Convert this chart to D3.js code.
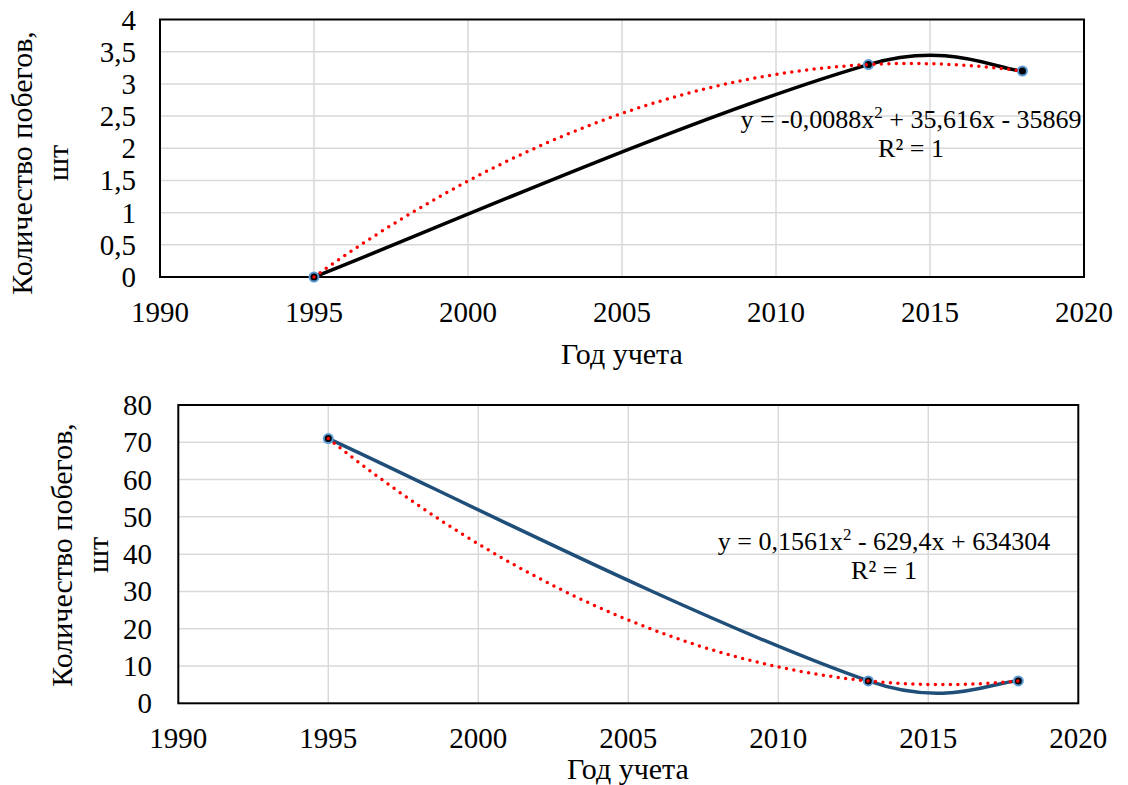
<!DOCTYPE html>
<html><head><meta charset="utf-8"><script src="https://cdn.jsdelivr.net/npm/d3@7"></script></head>
<body style="margin:0">
<svg id="chart" width="1128" height="785"></svg>
<script>
// data
const years = [1995, 2013, 2018];
const shootsTop = [0, 3.3, 3.2];
const shootsBottom = [71, 6, 6];

const xTicks = [1990, 1995, 2000, 2005, 2010, 2015, 2020];
const yTicksTop = [0, 0.5, 1, 1.5, 2, 2.5, 3, 3.5, 4];
const yTicksBottom = [0, 10, 20, 30, 40, 50, 60, 70, 80];

const eqTop = ["y = -0,0088x", "2", " + 35,616x - 35869"];
const eqBottom = ["y = 0,1561x", "2", " - 629,4x + 634304"];
const r2Text = "R² = 1";
const xTitle = "Год учета";
const yTitle = ["Количество побегов,", "шт"];

const svg = d3.select("#chart");

// quadratic through the three points (Lagrange), used for the trendline
const quadratic = (xs, ys) => (x) => {
    let s = 0;
    for (let i = 0; i < xs.length; i++) {
        let t = ys[i];
        for (let j = 0; j < xs.length; j++) {
            if (j !== i) t *= (x - xs[j]) / (xs[i] - xs[j]);
        }
        s += t;
    }
    return s;
};

// Excel-like smoothed line: cubic beziers, tangents along (next - prev)
const smoothPath = (p) => {
    const path = d3.path();
    const endK = 1 / 6, inK = 0.25, outK = 0.115;
    path.moveTo(p[0][0], p[0][1]);
    for (let i = 0; i < p.length - 1; i++) {
        const a = p[i], b = p[i + 1];
        let c1, c2;
        if (i === 0) c1 = [a[0] + (b[0] - a[0]) * endK, a[1] + (b[1] - a[1]) * endK];
        else c1 = [a[0] + (b[0] - p[i - 1][0]) * outK, a[1] + (b[1] - p[i - 1][1]) * outK];
        if (i === p.length - 2) c2 = [b[0] - (b[0] - a[0]) * endK, b[1] - (b[1] - a[1]) * endK];
        else c2 = [b[0] - (p[i + 2][0] - a[0]) * inK, b[1] - (p[i + 2][1] - a[1]) * inK];
        path.bezierCurveTo(c1[0], c1[1], c2[0], c2[1], b[0], b[1]);
    }
    return path.toString();
};

const drawPanel = (cfg) => {
    const x = d3.scaleLinear().domain([1990, 2020]).range([cfg.left, cfg.right]);
    const y = d3.scaleLinear().domain(cfg.yDomain).range([cfg.bottom, cfg.top]);

    // grid
    svg.selectAll(null).data(xTicks.slice(1, -1)).enter().append("line")
        .attr("x1", d => x(d)).attr("x2", d => x(d))
        .attr("y1", cfg.top).attr("y2", cfg.bottom)
        .attr("stroke", "#d9d9d9").attr("stroke-width", 1.5);
    svg.selectAll(null).data(cfg.yTicks.slice(1, -1)).enter().append("line")
        .attr("x1", cfg.left).attr("x2", cfg.right)
        .attr("y1", d => y(d)).attr("y2", d => y(d))
        .attr("stroke", "#d9d9d9").attr("stroke-width", 1.5);

    // plot frame
    svg.append("rect")
        .attr("x", cfg.left).attr("y", cfg.top)
        .attr("width", cfg.right - cfg.left).attr("height", cfg.bottom - cfg.top)
        .attr("fill", "none").attr("stroke", "#000").attr("stroke-width", 2);

    // tick labels
    svg.selectAll(null).data(xTicks).enter().append("text")
        .attr("x", d => x(d)).attr("y", cfg.bottom + cfg.xLabelDy)
        .attr("text-anchor", "middle").attr("font-size", 29)
        .style("font-family", d => "'Liberation Serif'")
        .text(d => d);
    svg.selectAll(null).data(cfg.yTicks).enter().append("text")
        .attr("x", cfg.yLabelX).attr("y", d => y(d) + 10)
        .attr("text-anchor", "end").attr("font-size", 29)
        .style("font-family", d => "'Liberation Serif'")
        .text(d => String(d).replace(".", ","));

    // axis titles
    svg.append("text")
        .attr("x", cfg.xTitleX).attr("y", cfg.xTitleY)
        .attr("text-anchor", "middle").attr("font-size", 30)
        .style("font-family", "'Liberation Serif'")
        .text(xTitle);
    svg.selectAll(null).data(yTitle).enter().append("text")
        .attr("transform", (d, i) => "translate(" + (cfg.yTitleX + i * 36) + "," + cfg.yTitleY + ") rotate(-90)")
        .attr("text-anchor", "middle").attr("font-size", 30)
        .style("font-family", "'Liberation Serif'")
        .text(d => d);

    const pts = years.map((d, i) => [x(d), y(cfg.values[i])]);

    // series line (smoothed)
    svg.append("path")
        .attr("d", smoothPath(pts)).attr("fill", "none")
        .attr("stroke", cfg.color).attr("stroke-width", 3.5);

    // markers
    svg.selectAll(null).data(pts).enter().append("circle")
        .attr("cx", d => d[0]).attr("cy", d => d[1]).attr("r", 4.5)
        .attr("fill", "#000").attr("stroke", "#5b9bd5").attr("stroke-width", 2);

    // polynomial trendline
    const f = quadratic(years, cfg.values);
    const trend = d3.range(years[0], years[years.length - 1] + 0.01, 0.1).map(t => [t, f(t)]);
    svg.append("path").datum(trend)
        .attr("d", d3.line().x(d => x(d[0])).y(d => y(d[1])))
        .attr("fill", "none").attr("stroke", "#ff0000").attr("stroke-width", 3.5)
        .attr("stroke-linecap", "round").attr("stroke-dasharray", "0 7.5");

    // equation label
    const eq = svg.append("text")
        .attr("x", cfg.eqX).attr("y", cfg.eqY)
        .attr("text-anchor", "middle").attr("font-size", 26)
        .style("font-family", "'Liberation Serif'");
    eq.append("tspan").text(cfg.eq[0]);
    eq.append("tspan").attr("dy", -10).attr("font-size", 17).text(cfg.eq[1]);
    eq.append("tspan").attr("dy", 10).text(cfg.eq[2]);
    svg.append("text")
        .attr("x", cfg.eqX).attr("y", cfg.eqY + 29)
        .attr("text-anchor", "middle").attr("font-size", 26)
        .style("font-family", "'Liberation Serif'")
        .text(r2Text);
};

drawPanel({
    left: 160, right: 1084, top: 19.5, bottom: 277,
    yDomain: [0, 4], yTicks: yTicksTop, values: shootsTop, color: "#000000",
    xLabelDy: 45, yLabelX: 136,
    xTitleX: 622, xTitleY: 364,
    yTitleX: 32, yTitleY: 163,
    eq: eqTop, eqX: 911, eqY: 128
});

drawPanel({
    left: 178.3, right: 1078.3, top: 405, bottom: 703.3,
    yDomain: [0, 80], yTicks: yTicksBottom, values: shootsBottom, color: "#1f4e79",
    xLabelDy: 45, yLabelX: 152,
    xTitleX: 628, xTitleY: 779,
    yTitleX: 72, yTitleY: 555,
    eq: eqBottom, eqX: 884, eqY: 550
});
</script>
</body>
</html>
